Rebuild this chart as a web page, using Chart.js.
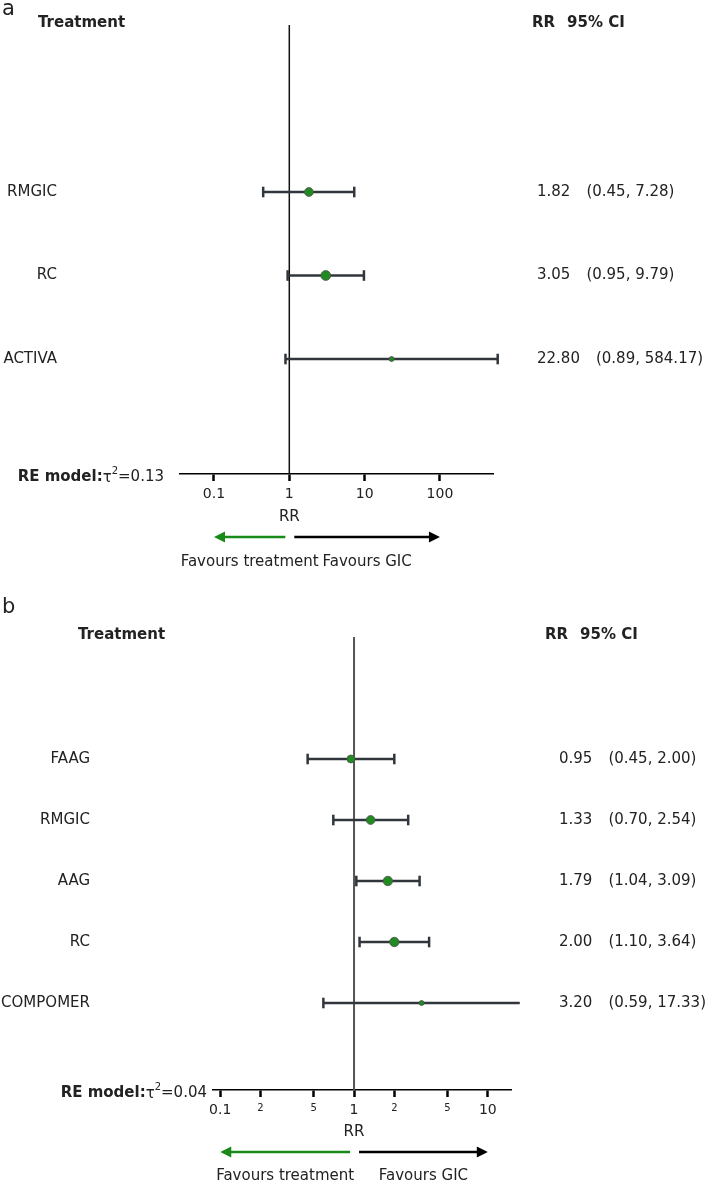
<!DOCTYPE html>
<html>
<head>
<meta charset="utf-8">
<script src="https://cdn.jsdelivr.net/npm/chart.js@4.4.0/dist/chart.umd.min.js"></script>
<style>
  body { margin: 0; background: #fff; }
  canvas { position: absolute; left: 0; }
  #chartA { top: 0; }
  #chartB { top: 590px; }
</style>
</head>
<body>
<canvas id="chartA" width="708" height="590"></canvas>
<canvas id="chartB" width="708" height="594"></canvas>
<script>
// panel a
const treatmentsA = ['RMGIC', 'RC', 'ACTIVA'];
const rrA = [1.82, 3.05, 22.80];
const lowerA = [0.45, 0.95, 0.89];
const upperA = [7.28, 9.79, 584.17];
const ticksA = [0.1, 1, 10, 100];
const tickLabelsA = ['0.1', '1', '10', '100'];
const tauA = '0.13';

// panel b
const treatmentsB = ['FAAG', 'RMGIC', 'AAG', 'RC', 'COMPOMER'];
const rrB = [0.95, 1.33, 1.79, 2.00, 3.20];
const lowerB = [0.45, 0.70, 1.04, 1.10, 0.59];
const upperB = [2.00, 2.54, 3.09, 3.64, 17.33];
const ticksB = [0.1, 0.2, 0.5, 1, 2, 5, 10];
const tickLabelsB = ['0.1', '2', '5', '1', '2', '5', '10'];
const tauB = '0.04';

const FONT = '"DejaVu Sans", Verdana, sans-serif';
const isDecade = v => Math.abs(Math.log10(v) - Math.round(Math.log10(v))) < 1e-9;

// draws the texts round the plot: headers, labels, RR/CI column, arrows
function forestText(p) {
    return {
        id: 'forestText',
        afterDraw(chart) {
            const ctx = chart.ctx;
            const x = chart.scales.x, y = chart.scales.y;
            const area = chart.chartArea;
            ctx.save();
            ctx.fillStyle = '#222';
            ctx.textBaseline = 'middle';
            ctx.textAlign = 'left';

            ctx.font = '21px ' + FONT;
            ctx.fillText(p.letter, 2, p.letterY);

            ctx.font = 'bold 15px ' + FONT;
            ctx.fillText('Treatment', p.headX, p.headY);
            ctx.fillText('RR', p.rrHeadX, p.headY);
            ctx.fillText('95% CI', p.rrHeadX + ctx.measureText('RR').width + 12, p.headY);

            ctx.font = '15px ' + FONT;
            p.names.forEach((name, i) => {
                const py = y.getPixelForValue(i);
                ctx.textAlign = 'right';
                ctx.fillText(name, p.labelRight, py);
                ctx.textAlign = 'left';
                const rr = p.rr[i].toFixed(2);
                ctx.fillText(rr, p.valueX, py);
                const ci = '(' + p.lo[i].toFixed(2) + ', ' + p.hi[i].toFixed(2) + ')';
                ctx.fillText(ci, p.valueX + ctx.measureText(rr).width + 16, py);
            });

            // RE model:τ²=...
            const ry = area.bottom + 3;
            ctx.font = 'bold 15px ' + FONT;
            const w1 = ctx.measureText('RE model:').width;
            ctx.font = '15px ' + FONT;
            const w2 = ctx.measureText('τ').width;
            const w4 = ctx.measureText('=' + p.tau).width;
            ctx.font = '10px ' + FONT;
            const w3 = ctx.measureText('2').width;
            let rx = p.reRight - (w1 + w2 + w3 + w4);
            ctx.textAlign = 'left';
            ctx.font = 'bold 15px ' + FONT;
            ctx.fillText('RE model:', rx, ry);
            rx += w1;
            ctx.font = '15px ' + FONT;
            ctx.fillText('τ', rx, ry + 1);
            rx += w2;
            ctx.font = '10px ' + FONT;
            ctx.fillText('2', rx, ry - 6);
            rx += w3;
            ctx.font = '15px ' + FONT;
            ctx.fillText('=' + p.tau, rx, ry);

            // axis title
            const x1 = x.getPixelForValue(1);
            ctx.textAlign = 'center';
            ctx.fillText('RR', x1, area.bottom + p.titleDy);

            // arrows
            const ay = area.bottom + p.arrowDy;
            const xl = x.getPixelForValue(p.ticks[0]);
            const xr = x.getPixelForValue(p.ticks[p.ticks.length - 1]);
            const arrow = (from, to, color) => {
                const dir = Math.sign(to - from);
                ctx.strokeStyle = color;
                ctx.fillStyle = color;
                ctx.lineWidth = 2.5;
                ctx.beginPath();
                ctx.moveTo(from, ay);
                ctx.lineTo(to - dir * 8, ay);
                ctx.stroke();
                ctx.beginPath();
                ctx.moveTo(to, ay);
                ctx.lineTo(to - dir * 11, ay - 5.5);
                ctx.lineTo(to - dir * 11, ay + 5.5);
                ctx.closePath();
                ctx.fill();
            };
            arrow(x1 - 4, xl, '#178a17');
            arrow(x1 + 5, xr, '#000');

            ctx.fillStyle = '#222';
            ctx.font = '15px ' + FONT;
            const ty = area.bottom + p.favDy;
            ctx.fillText('Favours treatment', (x1 - 4 + xl) / 2, ty);
            ctx.fillText('Favours GIC', (x1 + 5 + xr) / 2, ty);
            ctx.restore();
        }
    };
}

function makeForest(p) {
    const datasets = [];
    datasets.push({
        type: 'scatter',
        data: p.rr.map((v, i) => ({ x: v, y: i })),
        pointRadius: p.radius,
        pointBackgroundColor: '#218a21',
        pointBorderColor: 'rgba(80,80,80,0.8)',
        pointBorderWidth: 1,
        order: 0
    });
    p.lo.forEach((lo, i) => {
        datasets.push({
            type: 'line',
            data: [{ x: lo, y: i }, { x: p.hi[i], y: i }],
            borderColor: '#30363b',
            borderWidth: 2.5,
            pointStyle: 'line',
            pointRotation: 90,
            pointRadius: 5.3,
            pointBorderWidth: 2.5,
            pointBorderColor: '#30363b',
            clip: false,
            order: 1
        });
    });
    // line of no effect
    datasets.push({
        type: 'line',
        data: [{ x: 1, y: -2 }, { x: 1, y: p.yMax }],
        borderColor: p.nullColor,
        borderWidth: p.nullWidth,
        pointRadius: 0,
        order: 2
    });

    return new Chart(document.getElementById(p.id), {
        type: 'scatter',
        data: { datasets: datasets },
        options: {
            responsive: false,
            animation: false,
            layout: { padding: p.padding },
            plugins: { legend: { display: false }, tooltip: { enabled: false } },
            scales: {
                y: { type: 'linear', display: false, reverse: true, min: -2, max: p.yMax },
                x: {
                    type: 'logarithmic',
                    min: p.xMin,
                    max: p.xMax,
                    afterBuildTicks: s => { s.ticks = p.ticks.map(v => ({ value: v })); },
                    afterFit: s => { s.height = p.H - p.axisY; },
                    border: { display: true, color: '#000', width: 1.5 },
                    grid: { drawOnChartArea: false, drawTicks: true, tickLength: 7, tickWidth: 2.5, tickColor: '#000' },
                    ticks: {
                        autoSkip: false,
                        maxRotation: 0,
                        padding: 5,
                        color: '#222',
                        font: c => ({ family: FONT, size: (c.tick && !isDecade(c.tick.value)) ? 10 : 14 }),
                        callback: (v, i) => p.tickLabels[i]
                    }
                }
            }
        },
        plugins: [forestText(p)]
    });
}

makeForest({
    id: 'chartA', H: 590, axisY: 474, letter: 'a', letterY: 10,
    names: treatmentsA, rr: rrA, lo: lowerA, hi: upperA,
    ticks: ticksA, tickLabels: tickLabelsA, tau: tauA,
    radius: [4.4, 4.9, 2.5],
    xMin: 0.0354, xMax: 506, yMax: 3.377,
    padding: { left: 180, right: 215, top: 25, bottom: 0 },
    nullColor: '#111', nullWidth: 1.5,
    headX: 38, headY: 23, rrHeadX: 532, labelRight: 57, valueX: 537,
    reRight: 164, titleDy: 43, arrowDy: 63, favDy: 88
});

makeForest({
    id: 'chartB', H: 594, axisY: 500, letter: 'b', letterY: 18,
    names: treatmentsB, rr: rrB, lo: lowerB, hi: upperB,
    ticks: ticksB, tickLabels: tickLabelsB, tau: tauB,
    radius: [4, 4.4, 4.7, 4.7, 2.5],
    xMin: 0.0883, xMax: 14.9, yMax: 5.426,
    padding: { left: 213, right: 197, top: 47, bottom: 0 },
    nullColor: '#555', nullWidth: 2,
    headX: 78, headY: 45, rrHeadX: 545, labelRight: 90, valueX: 559,
    reRight: 207, titleDy: 42, arrowDy: 62, favDy: 86
});
</script>
</body>
</html>
